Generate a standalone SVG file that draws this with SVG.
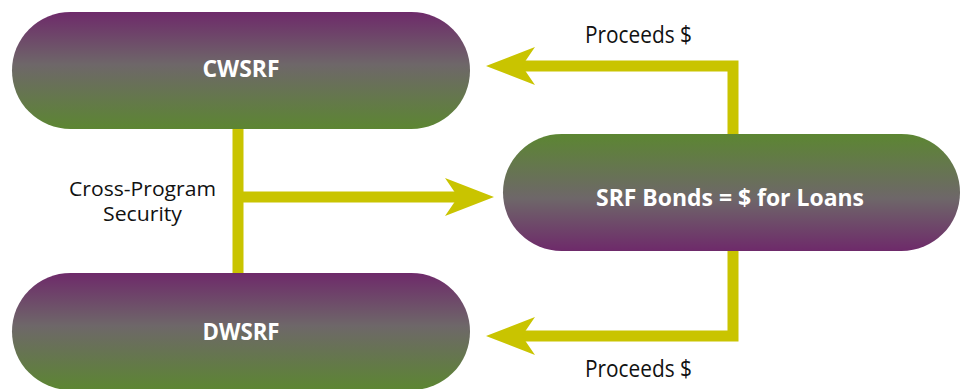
<svg xmlns="http://www.w3.org/2000/svg" width="969" height="389" viewBox="0 0 969 389">
<defs>
<linearGradient id="gDown" x1="0" y1="0" x2="0" y2="1">
<stop offset="0" stop-color="#6e2a6a"/>
<stop offset="0.45" stop-color="#6e6769"/>
<stop offset="1" stop-color="#5c8632"/>
</linearGradient>
<linearGradient id="gUp" x1="0" y1="1" x2="0" y2="0">
<stop offset="0" stop-color="#6e2a6a"/>
<stop offset="0.45" stop-color="#6e6769"/>
<stop offset="1" stop-color="#5c8632"/>
</linearGradient>
<style>
.lbl{font-family:"Open Sans","Noto Sans","Liberation Sans",sans-serif;font-weight:bold;font-size:23px;fill:#ffffff;text-anchor:middle}
.cap{font-family:"Open Sans","Noto Sans","Liberation Sans",sans-serif;font-size:23px;fill:#111111;text-anchor:middle}
.cap2{font-family:"Open Sans","Noto Sans","Liberation Sans",sans-serif;font-size:20px;fill:#111111;text-anchor:middle}
.conn{fill:none;stroke:#c9c400;stroke-width:11}
.head{fill:#c9c400}
</style>
</defs>
<g id="connectors">
<path class="conn" d="M238,126 V276"/>
<path class="conn" d="M238,197 H462"/>
<polygon class="head" points="494,197 445,178 458,197 445,216"/>
<path class="conn" d="M733,138 V66 H518"/>
<polygon class="head" points="486,66 535,47 522,66 535,85"/>
<path class="conn" d="M733,248 V336 H518"/>
<polygon class="head" points="486,336 535,317 522,336 535,355"/>
</g>
<g id="cwsrf">
<rect x="12" y="12" width="458" height="117" rx="58.5" fill="url(#gDown)"/>
<text class="lbl" x="241" y="77" textLength="77" lengthAdjust="spacingAndGlyphs">CWSRF</text>
</g>
<g id="dwsrf">
<rect x="12" y="273" width="458" height="117" rx="58.5" fill="url(#gDown)"/>
<text class="lbl" x="241" y="340" textLength="77" lengthAdjust="spacingAndGlyphs">DWSRF</text>
</g>
<g id="srfbonds">
<rect x="503" y="134" width="457" height="117" rx="58.5" fill="url(#gUp)"/>
<text class="lbl" x="730" y="206" textLength="268" lengthAdjust="spacingAndGlyphs">SRF Bonds = $ for Loans</text>
</g>
<g id="labels">
<text class="cap" x="638.5" y="43" textLength="107" lengthAdjust="spacingAndGlyphs">Proceeds $</text>
<text class="cap" x="638.5" y="377" textLength="107" lengthAdjust="spacingAndGlyphs">Proceeds $</text>
<text class="cap2" x="142.5" y="196" textLength="147" lengthAdjust="spacingAndGlyphs">Cross-Program</text>
<text class="cap2" x="142.5" y="221" textLength="79" lengthAdjust="spacingAndGlyphs">Security</text>
</g>
</svg>
